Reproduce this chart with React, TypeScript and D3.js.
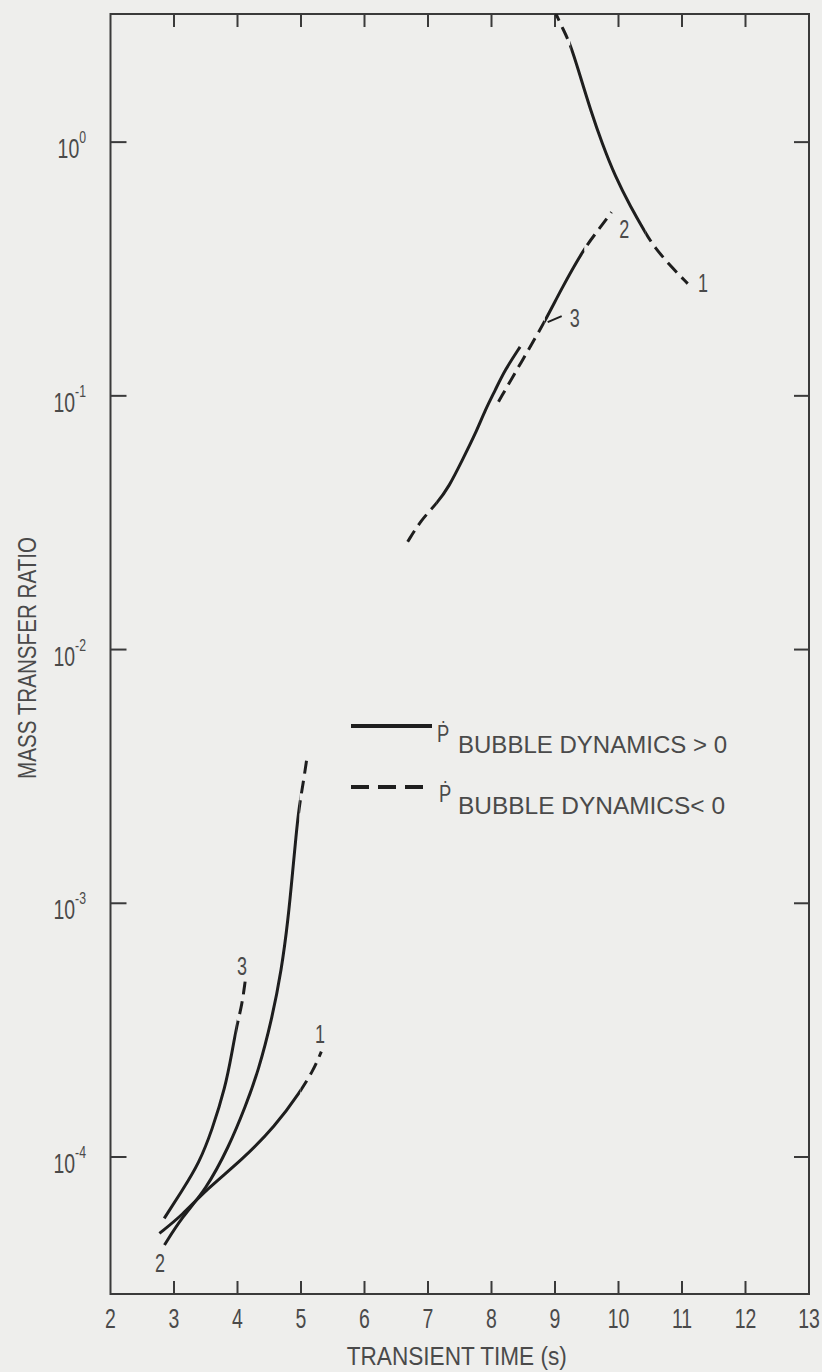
import React from 'react';
import * as d3 from 'd3';

type Pt = [number, number];

// ---------- axis data ----------
const xTickValues = [2, 3, 4, 5, 6, 7, 8, 9, 10, 11, 12, 13];
const xInnerTicks = [3, 4, 5, 6, 7, 8, 9, 10, 11, 12];
const yDecadeExponents = [0, -1, -2, -3, -4];
const xDomain: [number, number] = [2, 13];
const yDomain: [number, number] = [Math.pow(10, -4.54), Math.pow(10, 0.505)];
const xTitle = 'TRANSIENT TIME (s)';
const yTitle = 'MASS TRANSFER RATIO';

// ---------- early-time curves (t in s, mass transfer ratio) ----------
const curve1Early: Pt[] = [[2.77, 5.0e-5], [3.13, 5.9e-5], [3.5, 7.41e-5], [4.07, 9.73e-5], [4.59, 1.318e-4], [4.99, 1.81e-4], [5.195, 2.2e-4], [5.32, 2.6e-4]];
const curve1EarlyDashed: Pt[] = [[4.99, 5.4]];

const curve2Early: Pt[] = [[2.85, 4.5e-5], [3.13, 5.82e-5], [3.5, 7.41e-5], [3.865, 1.098e-4], [4.124, 1.578e-4], [4.333, 2.2e-4], [4.539, 3.47e-4], [4.693, 5.46e-4], [4.796, 8.59e-4], [4.871, 1.352e-3], [4.92, 1.83e-3], [4.97, 2.4e-3], [5.04, 3.03e-3], [5.1, 3.84e-3]];
const curve2EarlyDashed: Pt[] = [[4.975, 5.2]];

const curve3Early: Pt[] = [[2.846, 5.73e-5], [3.134, 7.41e-5], [3.395, 9.45e-5], [3.6, 1.277e-4], [3.81, 1.89e-4], [3.91, 2.56e-4], [3.99, 3.31e-4], [4.07, 3.97e-4], [4.12, 4.91e-4]];
const curve3EarlyDashed: Pt[] = [[3.99, 4.2]];

// ---------- late-time curves ----------
const curve1Late: Pt[] = [[8.98, 3.35], [9.107, 2.85], [9.24, 2.45], [9.4, 1.81], [9.56, 1.34], [9.74, 0.99], [9.95, 0.73], [10.19, 0.556], [10.43, 0.437], [10.56, 0.387], [10.83, 0.3225], [11.09, 0.277]];
const curve1LateDashed: Pt[] = [[8.9, 9.24], [10.43, 11.2]];

const curve2Late: Pt[] = [[8.11, 0.0948], [8.47, 0.136], [8.84, 0.196], [9.09, 0.261], [9.46, 0.382], [9.67, 0.446], [9.89, 0.53]];
const curve2LateDashed: Pt[] = [[8.0, 8.84], [9.46, 10.0]];

const curve3Late: Pt[] = [[6.68, 0.0266], [6.89, 0.0324], [7.14, 0.0377], [7.33, 0.0438], [7.54, 0.0558], [7.75, 0.0711], [7.9, 0.0879], [8.06, 0.1054], [8.21, 0.1263], [8.45, 0.156]];
const curve3LateDashed: Pt[] = [[6.6, 7.14]];

const curves: { data: Pt[]; dashedRanges: Pt[] }[] = [
  { data: curve1Early, dashedRanges: curve1EarlyDashed },
  { data: curve2Early, dashedRanges: curve2EarlyDashed },
  { data: curve3Early, dashedRanges: curve3EarlyDashed },
  { data: curve1Late, dashedRanges: curve1LateDashed },
  { data: curve2Late, dashedRanges: curve2LateDashed },
  { data: curve3Late, dashedRanges: curve3LateDashed },
];

// curve number labels (text, t, value at baseline)
const curveLabelText = ['1', '2', '3', '3', '1', '2'];
const curveLabelT = [11.33, 10.09, 9.31, 4.07, 5.3, 2.78];
const curveLabelV = [0.2564, 0.418, 0.1866, 5.21e-4, 2.81e-4, 3.52e-5];
const leaderLabelIndex = 2;

const legendLabels = ['BUBBLE DYNAMICS > 0', 'BUBBLE DYNAMICS< 0'];

const W = 822;
const H = 1372;
const M = { left: 110.5, right: 809, top: 14, bottom: 1294 };
const INK = '#1e1e1e';
const TEXT = '#4a4a4a';
const FONT = '"Liberation Sans", Arial, Helvetica, sans-serif';

function Cond({ x, y, sx = 0.8, size = 25, anchor = 'middle', children }: any) {
  return (
    <g transform={`translate(${x},${y}) scale(${sx},1)`}>
      <text textAnchor={anchor} fontSize={size} fontFamily={FONT} fill={TEXT}>
        {children}
      </text>
    </g>
  );
}

export default function App() {
  const x = d3.scaleLinear().domain(xDomain).range([M.left, M.right]);
  const y = d3.scaleLog().domain(yDomain).range([M.bottom, M.top]);
  const line = d3
    .line<Pt>()
    .x((d) => x(d[0]))
    .y((d) => y(d[1]))
    .curve(d3.curveBasis);

  // build x-range clip paths for solid / dashed parts of each curve
  const clipDefs: React.ReactNode[] = [];
  curves.forEach((c, i) => {
    const ranges = c.dashedRanges;
    clipDefs.push(
      <clipPath id={`dash${i}`} key={`dash${i}`}>
        {ranges.map((r, j) => (
          <rect key={j} x={x(r[0])} y={M.top} width={x(r[1]) - x(r[0])} height={M.bottom - M.top} />
        ))}
      </clipPath>
    );
    // solid = complement within plot
    const edges: number[] = [xDomain[0]];
    ranges.forEach((r) => {
      edges.push(r[0], r[1]);
    });
    edges.push(xDomain[1]);
    const solids: Pt[] = [];
    for (let k = 0; k < edges.length; k += 2) {
      if (edges[k + 1] > edges[k]) solids.push([edges[k], edges[k + 1]]);
    }
    clipDefs.push(
      <clipPath id={`solid${i}`} key={`solid${i}`}>
        {solids.map((r, j) => (
          <rect key={j} x={x(r[0])} y={M.top} width={x(r[1]) - x(r[0])} height={M.bottom - M.top} />
        ))}
      </clipPath>
    );
  });

  return (
    <svg
      width={W}
      height={H}
      viewBox={`0 0 ${W} ${H}`}
      style={{ position: 'absolute', left: 0, top: 0, display: 'block' }}
    >
      <defs>{clipDefs}</defs>
      <rect x={0} y={0} width={W} height={H} fill="#eeeeec" />

      {/* frame */}
      <rect
        x={M.left}
        y={M.top}
        width={M.right - M.left}
        height={M.bottom - M.top}
        fill="none"
        stroke="#3a3a3a"
        strokeWidth={2}
      />

      {/* x ticks (bottom and top, inward) */}
      {xInnerTicks.map((t) => (
        <g key={'xt' + t} stroke="#3a3a3a" strokeWidth={2}>
          <line x1={x(t)} x2={x(t)} y1={M.bottom} y2={M.bottom - 13} />
          <line x1={x(t)} x2={x(t)} y1={M.top} y2={M.top + 13} />
        </g>
      ))}
      {/* y ticks (left and right, inward) */}
      {yDecadeExponents.map((e) => (
        <g key={'yt' + e} stroke="#3a3a3a" strokeWidth={2}>
          <line x1={M.left} x2={M.left + 16} y1={y(Math.pow(10, e))} y2={y(Math.pow(10, e))} />
          <line x1={M.right} x2={M.right - 15} y1={y(Math.pow(10, e))} y2={y(Math.pow(10, e))} />
        </g>
      ))}

      {/* x tick labels */}
      {xTickValues.map((t) => (
        <Cond key={'xl' + t} x={x(t)} y={M.bottom + 34} size={27} sx={0.72}>
          {String(t)}
        </Cond>
      ))}

      {/* y tick labels */}
      {yDecadeExponents.map((e) => (
        <Cond key={'yl' + e} x={86} y={y(Math.pow(10, e)) + 16} size={27} sx={0.72} anchor="end">
          10
          <tspan fontSize={17} dy={-15}>
            {e === 0 ? '0' : '-' + Math.abs(e)}
          </tspan>
        </Cond>
      ))}

      {/* axis titles */}
      <text
        x={(M.left + M.right) / 2 - 3}
        y={1365}
        textAnchor="middle"
        fontSize={25}
        fontFamily={FONT}
        fill={TEXT}
        textLength={220}
        lengthAdjust="spacingAndGlyphs"
      >
        {xTitle}
      </text>
      <text
        transform={`translate(36,658) rotate(-90)`}
        textAnchor="middle"
        fontSize={26}
        fontFamily={FONT}
        fill={TEXT}
        textLength={242}
        lengthAdjust="spacingAndGlyphs"
      >
        {yTitle}
      </text>

      {/* curves: solid parts and dashed parts */}
      <g fill="none" stroke={INK} strokeWidth={3} strokeLinecap="butt">
        {curves.map((c, i) => {
          const d = line(c.data) || '';
          return (
            <g key={'c' + i}>
              <g clipPath={`url(#solid${i})`}>
                <path d={d} />
              </g>
              <g clipPath={`url(#dash${i})`}>
                <path d={d} strokeDasharray="13 7" />
              </g>
            </g>
          );
        })}
      </g>

      {/* curve labels */}
      {curveLabelText.map((txt, i) => {
        const lx = x(curveLabelT[i]);
        const ly = y(curveLabelV[i]);
        return (
          <g key={'cl' + i}>
            <Cond x={lx} y={ly} size={25} sx={0.72}>
              {txt}
            </Cond>
            {i === leaderLabelIndex && (
              <line x1={lx - 27} y1={ly - 5} x2={lx - 13} y2={ly - 11} stroke={INK} strokeWidth={2} />
            )}
          </g>
        );
      })}

      {/* legend */}
      <g>
        <line x1={351} x2={432} y1={726} y2={726} stroke={INK} strokeWidth={4} />
        <Cond x={437} y={742} size={23} sx={0.8} anchor="start">
          Ṗ
        </Cond>
        <text
          x={458}
          y={753}
          fontSize={23}
          fontFamily={FONT}
          fill={TEXT}
          textLength={269}
          lengthAdjust="spacingAndGlyphs"
        >
          {legendLabels[0]}
        </text>

        <line x1={351} x2={432} y1={787} y2={787} stroke={INK} strokeWidth={4} strokeDasharray="18 9" />
        <Cond x={439} y={802} size={23} sx={0.8} anchor="start">
          Ṗ
        </Cond>
        <text
          x={458}
          y={814}
          fontSize={23}
          fontFamily={FONT}
          fill={TEXT}
          textLength={267}
          lengthAdjust="spacingAndGlyphs"
        >
          {legendLabels[1]}
        </text>
      </g>
    </svg>
  );
}
